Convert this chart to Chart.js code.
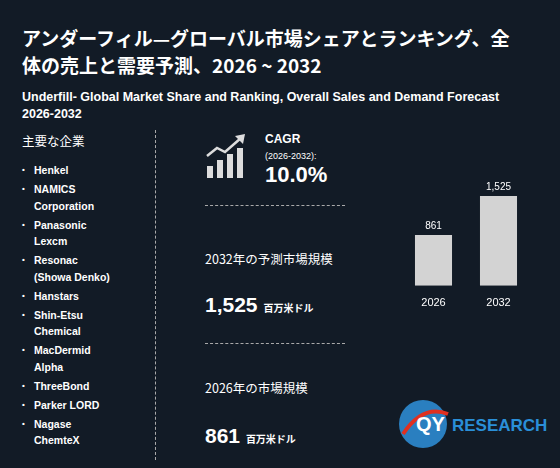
<!DOCTYPE html><html><head><meta charset="utf-8">
<script src="https://cdn.jsdelivr.net/npm/chart.js@4"></script>
<style>
body{margin:0;width:560px;height:468px;background:#121b26;font-family:"Noto Sans CJK JP","Noto Sans",sans-serif;color:#fff;position:relative;overflow:hidden}
.a{position:absolute;white-space:nowrap}
#t{left:22px;top:24px;font-size:19px;font-weight:bold;line-height:27px}
#s{left:22px;top:89px;font-size:12.5px;font-weight:bold;line-height:17px;font-family:"Liberation Sans",sans-serif}
#h{left:22px;top:131px;font-size:12.5px}
ul{position:absolute;left:20px;top:162px;margin:0;padding:0;list-style:none;font-family:"Liberation Sans",sans-serif;font-size:10.5px;font-weight:bold;line-height:16.5px}
li{margin-bottom:2.5px;padding-left:14px;position:relative}
li:before{content:"•";position:absolute;left:2px;font-size:8px}
#vl{left:155px;top:130px;height:330px;border-left:1px dashed #aaa}
.hl{left:205px;width:140px;border-top:1px dashed #aaa}
#c{left:401px;top:170px;width:130px;height:145px}
</style></head><body>
<div class="a" id="t">アンダーフィル—グローバル市場シェアとランキング、全<br>体の売上と需要予測、2026 ~ 2032</div>
<div class="a" id="s">Underfill- Global Market Share and Ranking, Overall Sales and Demand Forecast<br>2026-2032</div>
<div class="a" id="h">主要な企業</div>
<ul id="list"></ul>
<div class="a" id="vl"></div>
<svg class="a" style="left:203px;top:132px" width="50" height="50"><g fill="#ddd"><rect x="4" y="34" width="6" height="12"/><rect x="14" y="28" width="6" height="18"/><rect x="24" y="22" width="6" height="24"/><rect x="34" y="16" width="6" height="30"/></g><polyline points="4,24 14,16 22,20 38,6" fill="none" stroke="#ddd" stroke-width="2.5"/><polygon points="32,4 42,2 40,12" fill="#ddd"/></svg>
<div class="a" style="left:265px;top:132px;font-size:12px;font-weight:bold;font-family:'Liberation Sans'">CAGR</div>
<div class="a" style="left:265px;top:151px;font-size:9px;font-family:'Liberation Sans'">(2026-2032):</div>
<div class="a" style="left:265px;top:162px;font-size:22px;font-weight:bold;font-family:'Liberation Sans'">10.0%</div>
<div class="a hl" style="top:205px"></div>
<div class="a" style="left:205px;top:249px;font-size:12.5px">2032年の予測市場規模</div>
<div class="a" style="left:205px;top:293px;font-size:21px;font-weight:bold;font-family:'Liberation Sans'">1,525 <span style="font-size:10px;font-family:'Noto Sans CJK JP'">百万米ドル</span></div>
<div class="a hl" style="top:343px"></div>
<div class="a" style="left:205px;top:378px;font-size:12.5px">2026年の市場規模</div>
<div class="a" style="left:205px;top:424px;font-size:21px;font-weight:bold;font-family:'Liberation Sans'">861 <span style="font-size:10px;font-family:'Noto Sans CJK JP'">百万米ドル</span></div>
<svg class="a" style="left:398px;top:384px" width="160" height="80"><circle cx="25" cy="40" r="24" fill="#2a7fc0"/><path d="M5 50 Q25 20 50 30" stroke="#e03020" stroke-width="4" fill="none"/><text x="18" y="47" font-family="Liberation Sans" font-weight="bold" font-size="20" fill="#fff">QY</text><text x="54" y="47" font-family="Liberation Sans" font-weight="bold" font-size="17" fill="#2a8fd8">RESEARCH</text></svg>
<div class="a" id="c"><canvas id="cv"></canvas></div>
<script>
const companies=["Henkel","NAMICS<br>Corporation","Panasonic<br>Lexcm","Resonac<br>(Showa Denko)","Hanstars","Shin-Etsu<br>Chemical","MacDermid<br>Alpha","ThreeBond","Parker LORD","Nagase<br>ChemteX"];
document.getElementById('list').innerHTML=companies.map(c=>'<li>'+c+'</li>').join('');
const years=["2026","2032"];
const sizes=[861,1525];
new Chart(document.getElementById('cv'),{type:'bar',data:{labels:years,datasets:[{data:sizes,backgroundColor:'#d3d3d3',barPercentage:0.57,categoryPercentage:1}]},
options:{responsive:true,maintainAspectRatio:false,animation:false,layout:{padding:{top:26,bottom:2}},plugins:{legend:{display:false},tooltip:{enabled:false}},
scales:{x:{grid:{display:false},border:{display:false},ticks:{color:'#fff',font:{size:11,family:'Liberation Sans'}}},y:{display:false,min:0,max:1525}}},
plugins:[{id:'lbl',afterDatasetsDraw(ch){const ctx=ch.ctx;ctx.fillStyle='#fff';ctx.font='10px Liberation Sans';ctx.textAlign='center';ch.getDatasetMeta(0).data.forEach((b,i)=>ctx.fillText(sizes[i].toLocaleString('en-US'),b.x,b.y-6));}}]});
</script></body></html>
